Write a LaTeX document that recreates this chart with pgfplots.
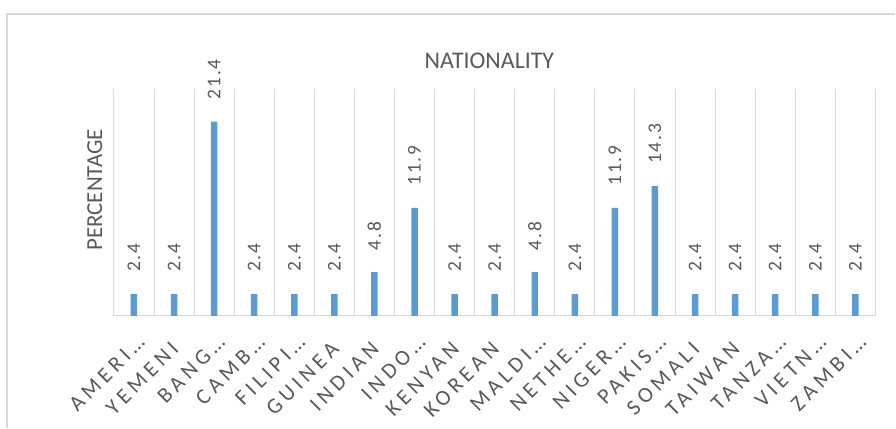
\documentclass[border=0pt]{standalone}
\usepackage{pgfplots}
\pgfplotsset{compat=1.18}
\usepackage{fontspec}
\setmainfont{Carlito}
\newfontfamily\spaced[LetterSpace=20]{Carlito}
\newfontfamily\dspaced[LetterSpace=10]{Carlito}
\definecolor{barblue}{HTML}{5B9BD5}
\definecolor{gridgray}{HTML}{D9D9D9}
\definecolor{txtgray}{HTML}{595959}
\newcommand{\el}{…\kern-9bp}
\begin{document}
\begin{tikzpicture}
\begin{axis}[
  scale only axis, width=762bp, height=227bp,
  xmin=-0.5, xmax=18.5, ymin=0, ymax=25,
  axis y line=none, axis x line*=bottom,
  x axis line style={gridgray, line width=1bp, -},
  xtick={0,...,18},
  xticklabels={AMERI\el, YEMENI, BANG\el, CAMB\el, FILIPI\el, GUINEA, INDIAN, INDO\el, KENYAN, KOREAN, MALDI\el, NETHE\el, NIGER\el, PAKIS\el, SOMALI, TAIWAN, TANZA\el, VIETN\el, ZAMBI\el},
  major tick length=0, minor tick length=0,
  minor xtick={-0.5,0.5,...,18.5},
  xminorgrids, minor grid style={gridgray, line width=1bp},
  x tick label style={xshift=6bp, yshift=-35bp, rotate=45, anchor=south east, font=\fontsize{22}{22}\spaced, text=txtgray, inner sep=0pt},
  ybar, bar width=6.5bp,
  nodes near coords,
  nodes near coords style={yshift=22bp, rotate=90, anchor=west, inner sep=0pt, font=\fontsize{19.5}{19.5}\dspaced, text=txtgray, /pgf/number format/fixed, /pgf/number format/precision=1, /pgf/number format/fixed zerofill, /pgf/number format/assume math mode=true},
  clip=false,
]
\addplot[fill=barblue, draw=none] coordinates {
  (0,2.4) (1,2.4) (2,21.4) (3,2.4) (4,2.4) (5,2.4) (6,4.8) (7,11.9) (8,2.4) (9,2.4)
  (10,4.8) (11,2.4) (12,11.9) (13,14.3) (14,2.4) (15,2.4) (16,2.4) (17,2.4) (18,2.4)};
\node[anchor=base, font=\fontsize{24}{24}\selectfont, text=txtgray] at ([yshift=20bp]axis description cs:0.493,1) {NATIONALITY};
\node[rotate=90, anchor=center, font=\fontsize{23}{23}\selectfont, text=txtgray] at (axis description cs:-0.025,0.555) {PERCENTAGE};
\end{axis}
\pgfresetboundingbox
\path (current axis.south west) ++(-114bp,-112bp) rectangle ++(896bp,428bp);
\draw[gridgray, line width=1.2bp] ([shift={(-107bp,-112bp)}]current axis.south west) |- ([shift={(782bp,302bp)}]current axis.south west);
\end{tikzpicture}
\end{document}
